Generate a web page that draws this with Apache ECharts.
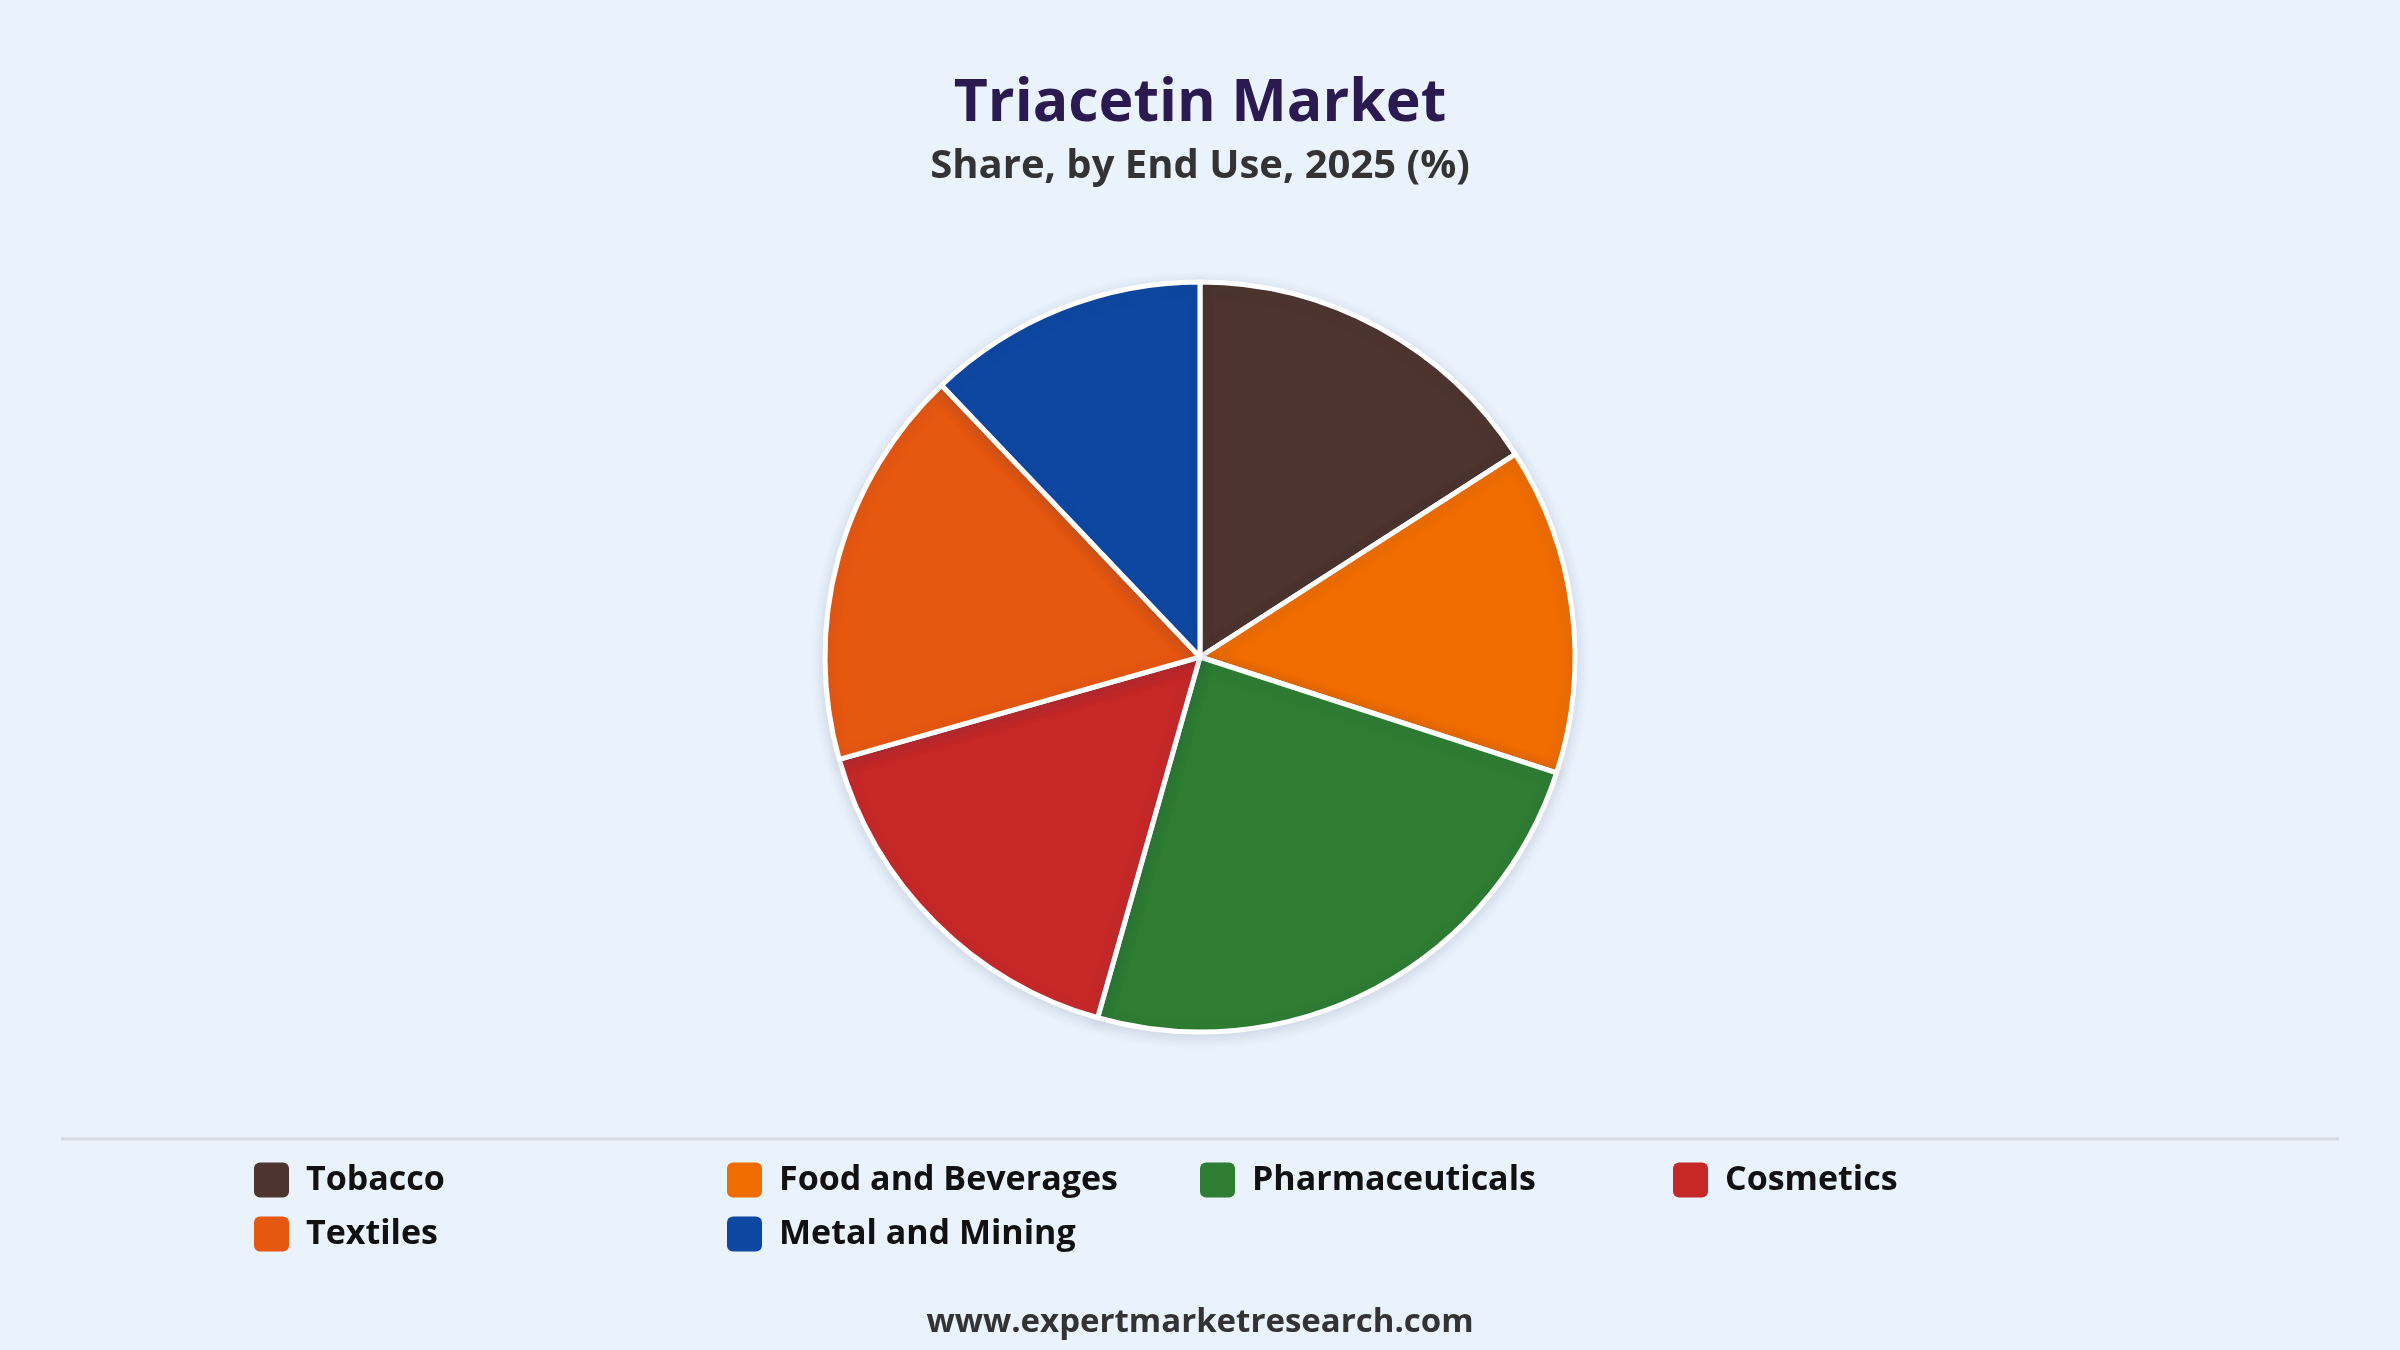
<!DOCTYPE html>
<html>
<head>
<meta charset="utf-8">
<title>Triacetin Market</title>
<script src="https://cdn.jsdelivr.net/npm/echarts@6/dist/echarts.min.js"></script>
<style>
  html, body { margin: 0; padding: 0; background: #eaf2fc; }
  #chart { width: 2400px; height: 1350px; }
</style>
</head>
<body>
<div id="chart"></div>
<script>
// share by end use, 2025 (%)
const categories = ['Tobacco', 'Food and Beverages', 'Pharmaceuticals', 'Cosmetics', 'Textiles', 'Metal and Mining'];
const shares = [15.9, 14.1, 24.4, 16.2, 17.3, 12.1];
const colors = ['#4e342e', '#ef6c00', '#2e7d32', '#c62828', '#e65710', '#0d47a1'];

const font = '"Open Sans", "Noto Sans", sans-serif';

const chart = echarts.init(document.getElementById('chart'));

chart.setOption({
  backgroundColor: '#eaf2fc',
  animation: false,
  title: [{
    text: 'Triacetin Market',
    left: 'center',
    top: 70,
    textStyle: { fontFamily: font, fontSize: 59, fontWeight: 'bold', color: '#2b1a4f' }
  }, {
    text: 'Share, by End Use, 2025 (%)',
    left: 'center',
    top: 142,
    textStyle: { fontFamily: font, fontSize: 40, fontWeight: 'bold', color: '#333333' }
  }, {
    text: 'www.expertmarketresearch.com',
    left: 'center',
    top: 1301,
    textStyle: { fontFamily: font, fontSize: 33, fontWeight: 'bold', color: '#333333' }
  }],
  legend: {
    data: categories,
    left: 249,
    top: 1148,
    width: 1900,
    orient: 'horizontal',
    itemGap: 0,
    itemWidth: 35,
    itemHeight: 35,
    icon: 'path://M6,0 H29 A6,6 0 0 1 35,6 V29 A6,6 0 0 1 29,35 H6 A6,6 0 0 1 0,29 V6 A6,6 0 0 1 6,0 Z',
    itemStyle: { borderWidth: 0, shadowBlur: 0 },
    selectedMode: false,
    textStyle: {
      fontFamily: font,
      fontSize: 34,
      fontWeight: 'bold',
      color: '#111111',
      width: 421,
      lineHeight: 54,
      padding: [0, 0, 0, 12]
    }
  },
  graphic: [{
    type: 'line',
    shape: { x1: 61, y1: 1139, x2: 2339, y2: 1139 },
    style: { stroke: '#d7dce2', lineWidth: 3 },
    silent: true
  }],
  series: [{
    type: 'pie',
    center: [1200, 657],
    radius: 375,
    startAngle: 90,
    clockwise: true,
    label: { show: false },
    labelLine: { show: false },
    emphasis: { disabled: true },
    itemStyle: {
      borderColor: '#ffffff',
      borderWidth: 5,
      shadowBlur: 14,
      shadowColor: 'rgba(40, 60, 90, 0.14)',
      shadowOffsetY: 3
    },
    data: categories.map((name, i) => ({
      name: name,
      value: shares[i],
      itemStyle: { color: colors[i] }
    }))
  }]
});
</script>
</body>
</html>
